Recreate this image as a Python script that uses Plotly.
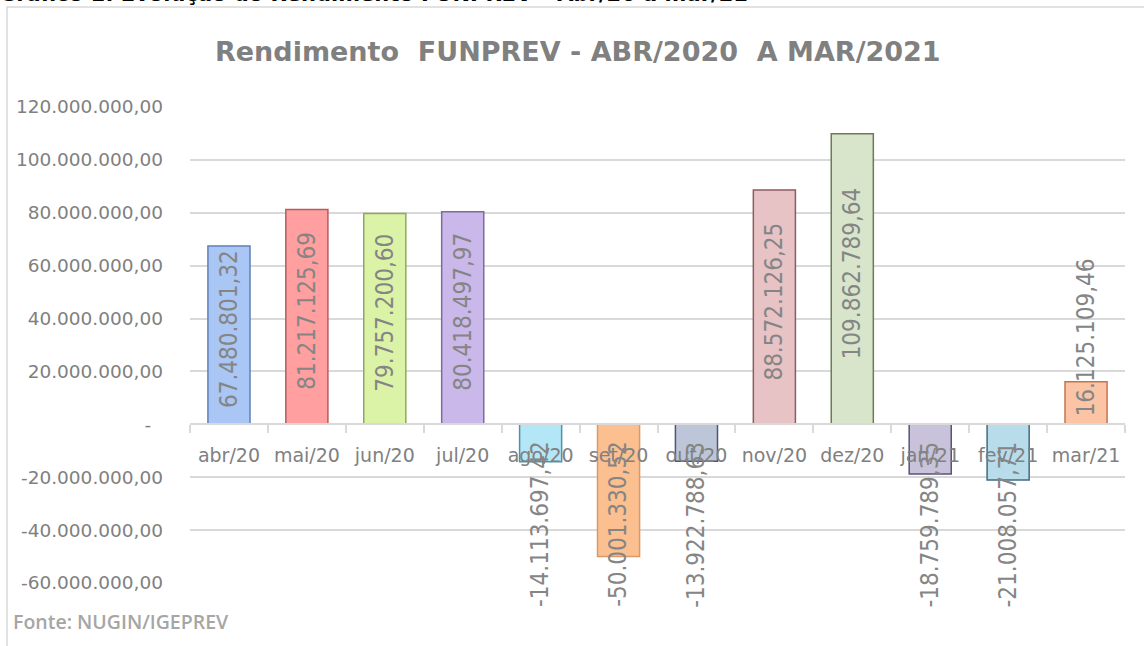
import plotly.graph_objects as go

# ---------------- data ----------------
months = ["abr/20", "mai/20", "jun/20", "jul/20", "ago/20", "set/20",
          "out/20", "nov/20", "dez/20", "jan/21", "fev/21", "mar/21"]
values = [67480801.32, 81217125.69, 79757200.60, 80418497.97,
          -14113697.42, -50001330.52, -13922788.63, 88572126.25,
          109862789.64, -18759789.35, -21008057.71, 16125109.46]
fill_colors = ["#a9c6f5", "#ff9f9f", "#dbf3a6", "#cbb8ea", "#b3e6f6", "#fbbf90",
               "#bcc6d8", "#e8c3c6", "#d8e5cb", "#c8c2da", "#b8dcea", "#fbc4a4"]
line_colors = ["#5f81b8", "#b25e5e", "#8ca862", "#7c6c9c", "#4f93a8", "#d99a68",
               "#4c5772", "#8c5c60", "#6c7c58", "#5c5272", "#416c82", "#c47452"]
ytick_vals = [-60e6, -40e6, -20e6, 0, 20e6, 40e6, 60e6, 80e6, 100e6, 120e6]

title_text = "Rendimento  FUNPREV - ABR/2020  A MAR/2021"
top_caption = "Gráfico 1: Evolução do Rendimento FUNPREV – Abr/20 a mar/21"
source_text = "Fonte: NUGIN/IGEPREV"


def br(v):
    s = f"{v:,.2f}"
    return s.replace(",", "X").replace(".", ",").replace("X", ".")


ytick_text = ["-\u00a0\u00a0" if v == 0 else br(v) for v in ytick_vals]
labels = [br(v) for v in values]

# ---------------- layout geometry ----------------
W, H = 1144, 646
SL, SR, ST, SB = 190, 1125, 107, 583
ML, MT = SL, ST
MR, MB = W - SR, H - SB
PW, PH = W - ML - MR, H - MT - MB
YMIN, YMAX = -60e6, 120e6


def px_x(p):
    return (p - ML) / PW


def px_y(p):
    return (H - MB - p) / PH


GRAY = "#858585"
GRID = "#d9d9d9"
LABEL_FONT = dict(family="DejaVu Sans Condensed, DejaVu Sans", size=24, color=GRAY)

fig = go.Figure()
fig.add_trace(go.Bar(
    x=months, y=values,
    marker=dict(color=fill_colors, line=dict(color=line_colors, width=1.5)),
    hoverinfo="skip",
))

# data labels (rotated), placed by value
annotations = []
px_per_unit = PH / (YMAX - YMIN)
for m, v, t in zip(months, values, labels):
    bar_px = abs(v) * px_per_unit
    text_px = len(t) * 12.4
    if v > 0 and text_px < bar_px:
        annotations.append(dict(x=m, y=v / 2, xref="x", yref="y", text=t,
                                textangle=-90, showarrow=False, yanchor="middle", yshift=6,
                                font=LABEL_FONT))
    elif v > 0:
        annotations.append(dict(x=m, y=0, xref="x", yref="y", text=t,
                                textangle=-90, showarrow=False, yanchor="bottom", yshift=6,
                                font=LABEL_FONT))
    else:
        annotations.append(dict(x=m, y=0, xref="x", yref="y", text=t,
                                textangle=-90, showarrow=False, yanchor="top", yshift=-15,
                                font=LABEL_FONT))

# title
annotations.append(dict(xref="paper", yref="paper", x=px_x(578), y=px_y(52),
                        xanchor="center", yanchor="middle", showarrow=False,
                        text="<b>" + title_text + "</b>",
                        font=dict(family="DejaVu Sans", size=27, color="#808080")))
# source
annotations.append(dict(xref="paper", yref="paper", x=px_x(11), y=px_y(621),
                        xanchor="left", yanchor="middle", showarrow=False,
                        text=source_text,
                        font=dict(family="Open Sans, DejaVu Sans", size=19.5, color="#a6a6a6", weight=600)))
# top caption (cut at page top)
annotations.append(dict(xref="paper", yref="paper", x=px_x(-3), y=px_y(8),
                        xanchor="left", yanchor="bottom", showarrow=False,
                        text="<b>" + top_caption + "</b>",
                        font=dict(family="DejaVu Sans", size=21, color="#000000")))

shapes = [dict(type="rect", xref="paper", yref="paper",
               x0=px_x(7), x1=px_x(1170), y0=px_y(670), y1=px_y(7),
               line=dict(color=GRID, width=1.5), fillcolor="rgba(0,0,0,0)", layer="below")]

fig.update_layout(
    width=W, height=H,
    margin=dict(l=ML, r=MR, t=MT, b=MB, pad=0, autoexpand=False),
    paper_bgcolor="white", plot_bgcolor="white",
    showlegend=False,
    bargap=0.46,
    annotations=annotations,
    shapes=shapes,
    xaxis=dict(
        type="category", anchor="free", position=(0 - YMIN) / (YMAX - YMIN),
        automargin=False, tickangle=0,
        showline=True, linecolor=GRID, linewidth=1.5,
        ticks="outside", tickson="boundaries", ticklen=8, tickcolor=GRID, tickwidth=1.5,
        ticklabelstandoff=14,
        showgrid=False, zeroline=False,
        tickfont=dict(family="DejaVu Sans", size=19, color="#808080"),
    ),
    yaxis=dict(
        range=[YMIN, YMAX], tickvals=ytick_vals, ticktext=ytick_text,
        automargin=False,
        showgrid=True, gridcolor=GRID, gridwidth=1.5, zeroline=False,
        showline=False, ticks="", ticklabelstandoff=26,
        tickfont=dict(family="DejaVu Sans", size=18.5, color="#808080"),
    ),
)

fig.write_html("out.html", config={"displayModeBar": False},
               post_script="document.body.style.margin='0';")
